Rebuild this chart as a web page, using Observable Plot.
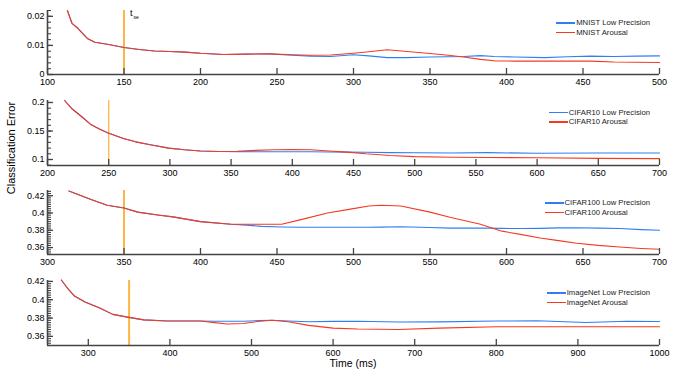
<!DOCTYPE html>
<html>
<head>
<meta charset="utf-8">
<script src="https://cdn.jsdelivr.net/npm/d3@7"></script>
<script src="https://cdn.jsdelivr.net/npm/@observablehq/plot@0.6"></script>
<style>
  html, body { margin: 0; padding: 0; background: #fff; }
  #chart { position: relative; width: 676px; height: 376px; font-family: "Liberation Sans", Arial, Helvetica, sans-serif; }
  #chart svg { position: absolute; left: 0; }
  .legend { position: absolute; font-size: 7.7px; color: #222; line-height: 9.5px; }
  .legend .row { display: flex; align-items: center; height: 9.5px; }
  .legend .sw { width: 19px; height: 1.5px; margin-right: 1px; }
  .title { position: absolute; font-size: 10.5px; color: #000; white-space: nowrap; line-height: 12px; }
</style>
</head>
<body>
<div id="chart"></div>
<script>
// ---------- data ----------
const mnistTime = [113,116,120,126,131,140,150,160,170,180,190,200,215,230,245,260,272,285,300,310,322,335,350,362,372,383,392,405,425,440,455,470,485,500];
const mnistArousal = [.022,.0176,.0158,.0124,.0111,.0103,.0093,.0086,.0081,.0079,.0077,.0073,.0069,.0070,.0071,.0068,.0066,.0067,.0073,.0078,.0085,.0079,.0072,.0066,.0060,.0052,.0047,.0046,.0046,.0046,.0046,.0043,.0042,.0041];
const mnistLow = [.022,.0176,.0158,.0124,.0111,.0103,.0093,.0086,.0081,.0079,.0077,.0073,.0069,.0070,.0071,.0066,.0063,.0062,.0068,.0064,.0058,.0058,.0060,.0061,.0062,.0065,.0062,.0060,.0058,.0061,.0063,.0062,.0063,.0064];

const cifar10Time = [214,220,228,235,242,249,262,272,284,299,312,325,340,355,370,385,400,415,430,445,460,480,500,530,560,600,650,700];
const cifar10Arousal = [.2035,.189,.175,.162,.154,.147,.137,.131,.126,.120,.117,.115,.114,.1145,.116,.117,.1175,.117,.115,.113,.110,.107,.105,.104,.1035,.103,.102,.1015];
const cifar10Low = [.2035,.189,.175,.162,.154,.147,.137,.131,.126,.120,.117,.115,.114,.1138,.1137,.1136,.1135,.1135,.1133,.113,.1127,.112,.1118,.1115,.112,.111,.1115,.1115];

const cifar100Time = [314,328,339,350,359,372,382,400,420,430,440,453,465,483,498,510,518,531,550,563,583,597,610,622,634,646,660,674,688,700];
const cifar100Arousal = [.4254,.416,.409,.4058,.401,.3977,.3955,.390,.387,.387,.387,.387,.392,.400,.4045,.408,.409,.408,.401,.395,.387,.379,.375,.371,.368,.365,.3625,.3607,.359,.358];
const cifar100Low = [.4254,.416,.409,.4058,.401,.3977,.3955,.390,.387,.386,.3845,.3838,.3835,.3835,.3835,.3835,.3837,.384,.3832,.3825,.3827,.3822,.382,.3822,.3828,.383,.3825,.382,.3808,.380];

const imagenetTime = [267,275,283,296,314,330,348,368,397,437,455,470,490,510,525,545,570,600,630,680,730,800,850,910,960,1000];
const imagenetArousal = [.4215,.412,.404,.3975,.391,.384,.381,.378,.3767,.3767,.375,.3735,.374,.3765,.3775,.376,.372,.369,.368,.3675,.369,.3705,.3705,.3705,.3705,.3705];
const imagenetLow = [.4215,.412,.404,.3975,.391,.384,.381,.378,.3767,.3767,.3765,.3765,.3765,.3772,.3775,.3768,.376,.3763,.3765,.3757,.3758,.3767,.377,.3752,.3765,.3762];

const panelNames = ["MNIST", "CIFAR10", "CIFAR100", "ImageNet"];
const seriesNames = ["Low Precision", "Arousal"];
const tseValues = [150, 250, 350, 350];
const xDomains = [[100,500],[200,700],[300,700],[250,1000]];
const yDomains = [[0,0.022],[0.0895,0.2035],[0.352,0.426],[0.350,0.421]];
const xTickValues = [
  [100,150,200,250,300,350,400,450,500],
  [200,250,300,350,400,450,500,550,600,650,700],
  [300,350,400,450,500,550,600,650,700],
  [300,400,500,600,700,800,900,1000]
];
const yTickValues = [[0,0.01,0.02],[0.1,0.15,0.2],[0.36,0.38,0.4,0.42],[0.36,0.38,0.4,0.42]];
const yMinorSteps = [0.002, 0.01, 0.0025, 0.0025];
const xTitle = "Time (ms)";
const yTitle = "Classification Error";

// ---------- style ----------
const BLUE = "#2f7ff2", RED = "#f53a22", ORANGE = "#fdb643", AXIS = "#444";
const W = 676, ML = 47, MR = 17;
const layout = [
  {top: 0,   height: 90, mt: 10, mb: 16},
  {top: 90,  height: 90, mt: 10, mb: 15},
  {top: 180, height: 90, mt: 10, mb: 16},
  {top: 270, height: 91, mt: 10, mb: 16}
];
const legendPos = [{top: 18, right: 26}, {top: 107.5, right: 26}, {top: 198, right: 26}, {top: 288, right: 26}];

const times = [mnistTime, cifar10Time, cifar100Time, imagenetTime];
const lows = [mnistLow, cifar10Low, cifar100Low, imagenetLow];
const arousals = [mnistArousal, cifar10Arousal, cifar100Arousal, imagenetArousal];

const fmt = d => String(Math.round(d * 10000) / 10000);
const chart = document.getElementById("chart");

for (let i = 0; i < 4; i++) {
  const L = layout[i];
  const plotW = W - ML - MR;
  const plotH = L.height - L.mt - L.mb;
  const [y0, y1] = yDomains[i];
  const step = yMinorSteps[i];
  const minor = d3.range(Math.ceil(y0 / step - 1e-9), Math.floor(y1 / step + 1e-9) + 1).map(k => +(k * step).toFixed(6));
  const low = times[i].map((t, j) => ({t, v: lows[i][j]}));
  const aro = times[i].map((t, j) => ({t, v: arousals[i][j]}));
  const marks = [
    Plot.ruleX([tseValues[i]], {stroke: ORANGE, strokeWidth: i === 1 ? 1.3 : 2}),
    Plot.line(low, {x: "t", y: "v", stroke: BLUE, strokeWidth: 1.1}),
    Plot.line(aro, {x: "t", y: "v", stroke: RED, strokeWidth: 1.1}),
    // inward tick marks
    Plot.ruleY(minor, {y: d => d, stroke: AXIS, strokeWidth: 1.1, insetRight: plotW - 4}),
    Plot.ruleY(yTickValues[i], {y: d => d, stroke: AXIS, strokeWidth: 1.3, insetRight: plotW - 6}),
    Plot.ruleX(xTickValues[i], {x: d => d, stroke: AXIS, strokeWidth: 1.3, insetTop: plotH - 6}),
    // tick labels
    Plot.axisY({ticks: yTickValues[i], tickSize: 0, tickPadding: 3, tickFormat: fmt, fill: "#000", label: null}),
    Plot.axisX({ticks: xTickValues[i], tickSize: 0, tickPadding: 4, tickFormat: d => String(d), fill: "#000", label: null}),
    // axis lines
    Plot.ruleY([y0], {stroke: AXIS, strokeWidth: 1.6}),
    Plot.ruleX([xDomains[i][0]], {stroke: AXIS, strokeWidth: 1.6})
  ];
  if (i === 0) {
    marks.push(Plot.text([tseValues[i]], {x: d => d, frameAnchor: "top", dx: 6, dy: -1, text: () => "t", fontSize: 9, textAnchor: "start", lineAnchor: "top"}));
    marks.push(Plot.text([tseValues[i]], {x: d => d, frameAnchor: "top", dx: 9.5, dy: 5, text: () => "se", fontSize: 5, textAnchor: "start", lineAnchor: "top"}));
  }
  const svg = Plot.plot({
    width: W, height: L.height,
    marginLeft: ML, marginRight: MR, marginTop: L.mt, marginBottom: L.mb,
    x: {domain: xDomains[i], axis: null},
    y: {domain: yDomains[i], axis: null},
    style: {fontFamily: '"Liberation Sans", Arial, Helvetica, sans-serif', fontSize: "9px", color: "#000", background: "transparent", overflow: "visible"},
    marks
  });
  svg.style.top = L.top + "px";
  chart.appendChild(svg);

  const leg = document.createElement("div");
  leg.className = "legend";
  leg.style.top = legendPos[i].top + "px";
  leg.style.right = legendPos[i].right + "px";
  [BLUE, RED].forEach((c, k) => {
    const row = document.createElement("div");
    row.className = "row";
    const sw = document.createElement("div");
    sw.className = "sw"; sw.style.background = c;
    const tx = document.createElement("span");
    tx.textContent = panelNames[i] + " " + seriesNames[k];
    row.appendChild(sw); row.appendChild(tx);
    leg.appendChild(row);
  });
  chart.appendChild(leg);
}

const xt = document.createElement("div");
xt.className = "title";
xt.textContent = xTitle;
xt.style.left = "353px"; xt.style.top = "357px"; xt.style.transform = "translateX(-50%)";
chart.appendChild(xt);

const yt = document.createElement("div");
yt.className = "title";
yt.textContent = yTitle;
yt.style.fontSize = "11px";
yt.style.left = "11px"; yt.style.top = "148px";
yt.style.transform = "translate(-50%, -50%) rotate(-90deg)";
chart.appendChild(yt);
</script>
</body>
</html>
